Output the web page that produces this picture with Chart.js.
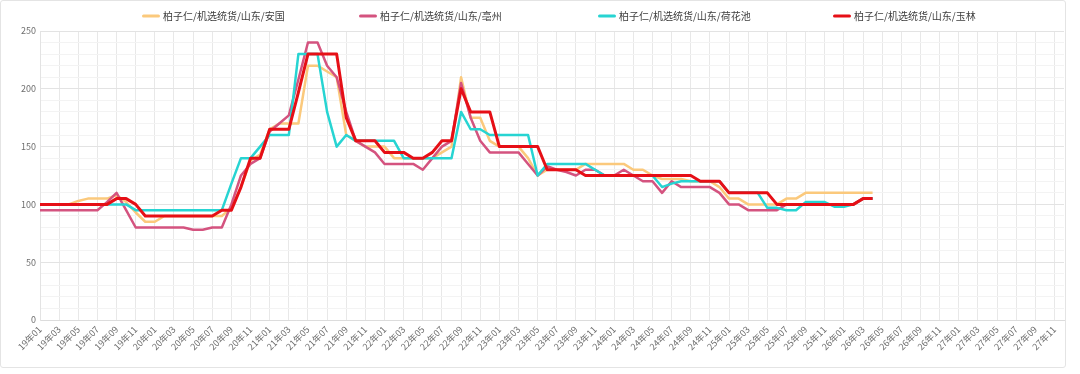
<!DOCTYPE html>
<html>
<head>
<meta charset="utf-8">
<script src="https://cdn.jsdelivr.net/npm/chart.js@4"></script>
<style>
  html, body { margin: 0; padding: 0; background: #ffffff; }
  #frame { position: absolute; left: 0; top: 0; width: 1066px; height: 368px; box-sizing: border-box; border: 1px solid #e4e4e4; border-radius: 3px; background: #fff; }
  #c { display: block; }
</style>
</head>
<body>
<div id="frame"><canvas id="c" width="1064" height="366"></canvas></div>
<script>
// ---- categories (monthly, 19年01 .. 27年12) ----
const months = [
  '19年01','19年02','19年03','19年04','19年05','19年06','19年07','19年08','19年09','19年10','19年11','19年12',
  '20年01','20年02','20年03','20年04','20年05','20年06','20年07','20年08','20年09','20年10','20年11','20年12',
  '21年01','21年02','21年03','21年04','21年05','21年06','21年07','21年08','21年09','21年10','21年11','21年12',
  '22年01','22年02','22年03','22年04','22年05','22年06','22年07','22年08','22年09','22年10','22年11','22年12',
  '23年01','23年02','23年03','23年04','23年05','23年06','23年07','23年08','23年09','23年10','23年11','23年12',
  '24年01','24年02','24年03','24年04','24年05','24年06','24年07','24年08','24年09','24年10','24年11','24年12',
  '25年01','25年02','25年03','25年04','25年05','25年06','25年07','25年08','25年09','25年10','25年11','25年12',
  '26年01','26年02','26年03','26年04','26年05','26年06','26年07','26年08','26年09','26年10','26年11','26年12',
  '27年01','27年02','27年03','27年04','27年05','27年06','27年07','27年08','27年09','27年10','27年11','27年12'
];

// ---- series names ----
const seriesNames = [
  '柏子仁/机选统货/山东/安国',
  '柏子仁/机选统货/山东/亳州',
  '柏子仁/机选统货/山东/荷花池',
  '柏子仁/机选统货/山东/玉林'
];

// ---- series values (19年01 .. 26年04) ----
const anguo = [
  100,100,100,100,103,105,105,105,108,102,93,85,
  85,90,90,90,90,90,90,90,97,115,138,143,
  165,170,170,170,220,220,215,210,160,155,150,150,
  150,140,140,140,140,140,145,150,210,175,175,155,
  150,150,150,140,125,130,130,130,130,135,135,135,
  135,135,130,130,125,122,122,122,120,120,120,115,
  105,105,100,100,100,100,105,105,110,110,110,110,
  110,110,110,110
];
const bozhou = [
  95,95,95,95,95,95,95,102,110,95,80,80,
  80,80,80,80,78,78,80,80,100,125,135,140,
  163,170,177,208,240,240,220,210,180,155,150,145,
  135,135,135,135,130,140,150,155,205,175,155,145,
  145,145,145,135,125,133,130,128,125,130,130,125,
  125,130,125,120,120,110,120,115,115,115,115,110,
  100,100,95,95,95,95,100,100,100,100,100,100,
  100,100,105,105
];
const hehuachi = [
  100,100,100,100,100,100,100,100,100,100,95,95,
  95,95,95,95,95,95,95,95,118,140,140,150,
  160,160,160,230,230,230,180,150,160,155,155,155,
  155,155,140,140,140,140,140,140,180,165,165,160,
  160,160,160,160,125,135,135,135,135,135,130,125,
  125,125,125,125,125,115,118,120,120,120,120,120,
  110,110,110,110,97,97,95,95,102,102,102,98,
  98,100,105,105
];
const yulin = [
  100,100,100,100,100,100,100,100,105,105,100,90,
  90,90,90,90,90,90,90,95,95,115,140,140,
  165,165,165,197,230,230,230,230,175,155,155,155,
  145,145,145,140,140,145,155,155,200,180,180,180,
  150,150,150,150,150,130,130,130,130,125,125,125,
  125,125,125,125,125,125,125,125,125,120,120,120,
  110,110,110,110,110,100,100,100,100,100,100,100,
  100,100,105,105
];

// ---- y tick values that carry a label ----
const yLabelTicks = [0, 50, 100, 150, 200, 250];

// ---- styles ----
const colors = ['#fbc97c', '#d4537f', '#27d4d2', '#e60f16'];
const widths = [2.5, 2.5, 2.5, 3];
const legendStartX = [142, 359, 598, 833];
const FONT = '"Noto Sans CJK SC", "Noto Sans", sans-serif';

const seriesValues = [anguo, bozhou, hehuachi, yulin];

const datasets = seriesNames.map((name, i) => ({
  label: name,
  data: seriesValues[i],
  borderColor: colors[i],
  backgroundColor: colors[i],
  borderWidth: widths[i],
  pointRadius: 0,
  pointHoverRadius: 0,
  tension: 0,
  fill: false,
  borderJoinStyle: 'round',
  order: seriesNames.length - i
}));

const refLegend = {
  id: 'refLegend',
  afterDraw(chart) {
    const ctx = chart.ctx;
    ctx.save();
    ctx.font = '10px ' + FONT;
    ctx.textBaseline = 'middle';
    ctx.textAlign = 'left';
    chart.data.datasets.forEach((ds, i) => {
      const x = legendStartX[i] - 1;
      const y = 15;
      ctx.strokeStyle = ds.borderColor;
      ctx.lineWidth = 3;
      ctx.lineCap = 'round';
      ctx.beginPath();
      ctx.moveTo(x + 1.5, y);
      ctx.lineTo(x + 16.5, y);
      ctx.stroke();
      ctx.fillStyle = '#3c3c3c';
      ctx.fillText(ds.label, x + 21, y + 0.5);
    });
    ctx.restore();
  }
};

new Chart(document.getElementById('c'), {
  type: 'line',
  data: { labels: months, datasets },
  plugins: [refLegend],
  options: {
    responsive: false,
    animation: false,
    events: [],
    layout: { padding: { top: 30, right: 1, left: 0, bottom: 0 } },
    plugins: { legend: { display: false }, tooltip: { enabled: false } },
    scales: {
      x: {
        type: 'category',
        offset: false,
        afterFit(scale) { scale.height = 47; scale.paddingLeft = 0; scale.paddingRight = 0; },
        grid: {
          drawTicks: false,
          color: (c) => (c.index % 2 === 0 ? '#e8e8e8' : 'rgba(0,0,0,0)'),
          lineWidth: 1
        },
        border: { display: true, color: '#dcdcdc' },
        ticks: {
          autoSkip: false,
          minRotation: 45,
          maxRotation: 45,
          padding: 4,
          color: '#6e6e6e',
          font: { family: FONT, size: 9 },
          callback: (v, idx) => (idx % 2 === 0 ? months[idx] : '')
        }
      },
      y: {
        min: 0,
        max: 250,
        afterFit(scale) { scale.width = 39; },
        grid: {
          drawTicks: false,
          color: (c) => (yLabelTicks.includes(Math.round(c.tick.value)) ? '#e3e3e3' : '#f3f3f3'),
          lineWidth: 1
        },
        border: { display: true, color: '#e3e3e3' },
        ticks: {
          autoSkip: false,
          stepSize: 10,
          padding: 4,
          color: '#6e6e6e',
          font: { family: FONT, size: 9 },
          callback: (v) => (yLabelTicks.includes(Math.round(v)) ? String(Math.round(v)) : '')
        }
      }
    }
  }
});
</script>
</body>
</html>
